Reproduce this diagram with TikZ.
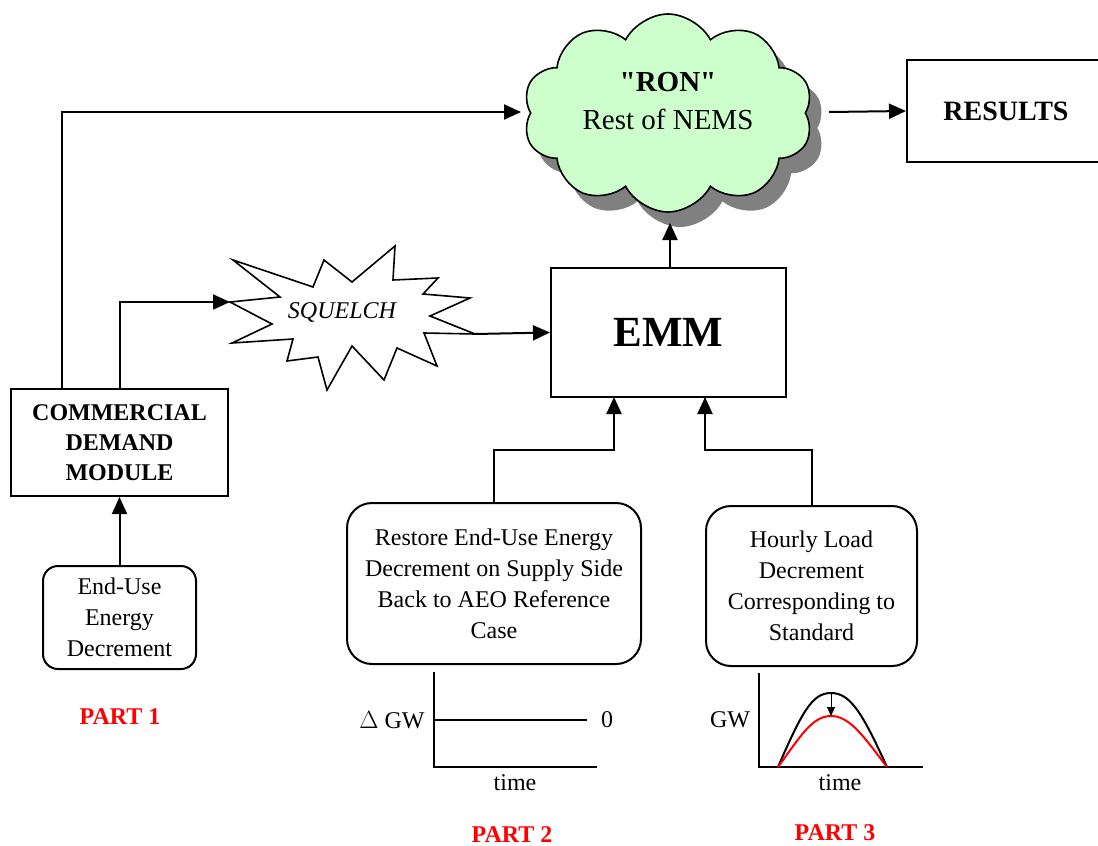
\documentclass[tikz,border=0pt]{standalone}
\usepackage{fontspec}
\setmainfont{Liberation Serif}
\usetikzlibrary{shapes.symbols,arrows.meta}
\definecolor{cloudgreen}{HTML}{CCFFCC}
\definecolor{shadowgray}{HTML}{808080}
\tikzset{
  arr/.style={draw=black,line width=2pt,-{Triangle[length=17pt,width=15pt]}},
  sqbox/.style={draw=black,line width=2pt,rectangle,inner sep=0pt,align=center},
  rbox/.style={draw=black,line width=2pt,rectangle,rounded corners=20pt,inner sep=0pt,align=center,
    font=\fontsize{24}{31}\selectfont},
  txt/.style={inner sep=0pt,font=\fontsize{24}{31}\selectfont},
  partlbl/.style={inner sep=0pt,text=red,font=\fontsize{24}{28}\selectfont\bfseries},
  cloudsh/.style={cloud,cloud puffs=10,cloud puff arc=125,cloud ignores aspect,
    minimum width=290pt,minimum height=198pt,inner sep=0pt},
  axis/.style={draw=black,line width=2pt},
}
\begin{document}
\begin{tikzpicture}[x=1pt,y=-1pt]
\useasboundingbox (0,0) rectangle (1098,846);
\clip (0,0) rectangle (1098,846);
\fill[white] (0,0) rectangle (1098,846);

% cloud with shadow
\node[cloudsh,fill=shadowgray,draw=none] (cloudshadow) at (680,128) {};
\node[cloudsh,fill=cloudgreen,draw=black,line width=1.6pt] (cloud) at (668,113) {};
\node[inner sep=0pt,align=center,font=\fontsize{29}{38}\selectfont] (cloudtext) at (668,101)
  {\textbf{\textquotedbl RON\textquotedbl}\\Rest of NEMS};
\coordinate (cloudW) at (521,112);
\coordinate (cloudE) at (829,112);
\coordinate (cloudS) at (670,223);

% results
\node[sqbox,minimum width=198pt,minimum height=102pt,font=\fontsize{28}{32}\selectfont\bfseries] (results) at (1006,111) {RESULTS};

% EMM
\node[sqbox,minimum width=235pt,minimum height=129pt,font=\fontsize{43}{48}\selectfont\bfseries] (emm) at (668.5,332.5) {EMM};
\coordinate (emmA) at (614,397);
\coordinate (emmB) at (705,397);

% commercial demand module
\node[sqbox,minimum width=217pt,minimum height=107pt,font=\fontsize{24}{30}\selectfont\bfseries] (cdm) at (119.5,442.5)
  {COMMERCIAL\\DEMAND\\MODULE};
\coordinate (cdmA) at (62,389);
\coordinate (cdmB) at (120,389);

% end-use
\node[rbox,rounded corners=15pt,minimum width=153pt,minimum height=103pt] (enduse) at (119.5,617.5)
  {End-Use\\Energy\\Decrement};

% restore
\node[rbox,rounded corners=25pt,minimum width=294pt,minimum height=161pt] (restore) at (494,583.5)
  {Restore End-Use Energy\\Decrement on Supply Side\\Back to AEO Reference\\Case};

% hourly
\node[rbox,rounded corners=25pt,minimum width=211pt,minimum height=160pt] (hourly) at (811.5,586)
  {Hourly Load\\Decrement\\Corresponding to\\Standard};

% squelch starburst
\draw[line width=1.6pt,fill=white,line join=miter]
  (230,302) -- (280,297) -- (233,260) -- (313,287) -- (324,260) -- (352,282) -- (395,246)
  -- (393,280) -- (438,278) -- (423,294) -- (470,298) -- (430,316) -- (475,334)
  -- (424,333) -- (437,366) -- (397,348) -- (384,380) -- (352,346) -- (327,390)
  -- (318,357) -- (287,361) -- (293,339) -- (232,343) -- (272,324) -- cycle;
\node[txt,font=\fontsize{24}{28}\selectfont\itshape] (squelch) at (342,312) {SQUELCH};
\coordinate (sqL) at (230,302);
\coordinate (sqR) at (475,334);

% connectors
\draw[arr] (cdmA) |- (cloudW);
\draw[arr] (cdmB) |- (sqL);
\draw[arr] (sqR) -- (emm.west);
\draw[arr] (emm.north -| cloudS) -- (cloudS);
\draw[arr] (cloudE) -- (results.west);
\draw[arr] (enduse.north) -- (cdm.south);
\coordinate (rj) at (494,450);
\coordinate (hj) at (811.5,450);
\draw[arr] (restore.north) -- (rj) -| (emmA);
\draw[arr] (hourly.north) -- (hj) -| (emmB);

% part labels
\node[partlbl] (part1) at (120,717) {PART 1};
\node[partlbl] (part2) at (512,835) {PART 2};
\node[partlbl] (part3) at (835,833) {PART 3};

% graph 1
\coordinate (g1o) at (434,767);
\coordinate (g1t) at (434,672);
\coordinate (g1r) at (597,767);
\coordinate (g1m) at (434,720);
\coordinate (g1me) at (587,720);
\draw[axis] (g1t) -- (g1o) -- (g1r);
\draw[axis] (g1m) -- (g1me);
\node[txt] (g1y) at (392,720) {$\Delta$ GW};
\node[txt] (g1z) at (607,720) {0};
\node[txt] (g1x) at (515,783) {time};

% graph 2
\coordinate (g2o) at (759,767);
\coordinate (g2t) at (759,673);
\coordinate (g2r) at (923,767);
\draw[axis] (g2t) -- (g2o) -- (g2r);
\coordinate (cs) at (778,767);
\coordinate (ce) at (887,767);
\coordinate (pk1) at (831,693);
\coordinate (pk2) at (831,716);
\draw[line width=2pt,black] (cs) .. controls (802,712) and (812,693) .. (pk1)
  .. controls (850,693) and (862,712) .. (ce);
\draw[line width=2pt,red] (cs) .. controls (800,737) and (812,716) .. (pk2)
  .. controls (850,716) and (864,737) .. (ce);
\draw[line width=1pt,-{Triangle[length=9pt,width=8pt]}] (pk1) -- (pk2);
\node[txt] (g2y) at (730,720) {GW};
\node[txt] (g2x) at (840,783) {time};
\end{tikzpicture}
\end{document}
